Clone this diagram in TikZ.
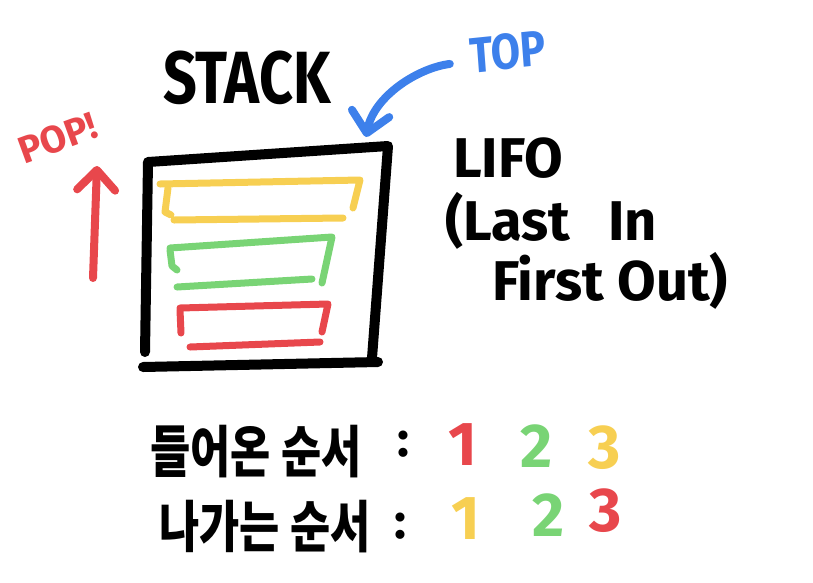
\documentclass[tikz,border=0pt]{standalone}
\usepackage{fontspec}
\setmainfont{Fira Sans}
\newfontfamily\kor{Noto Sans CJK KR}
\usetikzlibrary{arrows.meta}
\definecolor{penred}{HTML}{E8474C}
\definecolor{pengreen}{HTML}{79D475}
\definecolor{penyellow}{HTML}{F7CF52}
\definecolor{penblue}{HTML}{3D80EB}

\begin{document}
\begin{tikzpicture}[x=1pt, y=-1pt, line cap=round, line join=round,
  frame/.style={line width=10pt, black},
  bar/.style={line width=7pt},
  hand/.style={-{Straight Barb[round, length=20pt, width=38pt]}, line width=8pt},
  word/.style={font=\bfseries\fontsize{56}{60}\selectfont, inner sep=0pt},
  hangul/.style={font=\kor\bfseries\fontsize{56}{60}\selectfont, inner sep=0pt, xscale=0.78},
  digit/.style={font=\bfseries\fontsize{62}{66}\selectfont, inner sep=0pt}]
\useasboundingbox (0,0) rectangle (813,582);
% stack box
\draw [frame] (145,352) -- (148,162) -- (388,146) -- (372,358);
\draw [frame] (143,367) -- (378,362);
% bars: yellow, green, red
\draw [bar, penyellow] (160,184) -- (360,180) -- (353,208);
\draw [bar, penyellow] (168,188) -- (165,212) -- (171,215);
\draw [bar, penyellow] (174,220) -- (343,218);
\draw [bar, pengreen] (170,248) -- (332,237) -- (322,283);
\draw [bar, pengreen] (170,250) -- (172,266) -- (177,270);
\draw [bar, pengreen] (177,287) -- (312,279);
\draw [bar, penred] (180,308) -- (328,304) -- (322,332);
\draw [bar, penred] (180,310) -- (181,333);
\draw [bar, penred] (190,347) -- (320,342);
% labels
\node [word, font=\bfseries\fontsize{74}{78}\selectfont, xscale=0.8] (stack) at (247,78) {STACK};
\node [word, penred, font=\bfseries\fontsize{38}{40}\selectfont, rotate=20] (pop) at (58,138) {POP!};
\node [word, penblue, font=\bfseries\fontsize{50}{54}\selectfont, xscale=0.85, rotate=5] (top) at (508,52) {TOP};
\node [word, anchor=base west] (lifo) at (453,177) {LIFO};
\node [word, anchor=base west] (last) at (445,240) {(Last\hspace{38pt}In};
\node [word, anchor=base west] (first) at (492,300) {First Out)};
% arrows
\coordinate (corner) at (366,137);
\coordinate (popfoot) at (93,278);
\coordinate (poptip) at (97,166);
\draw [hand, penblue] ([shift={(-20,8)}]top.west) .. controls (418,68) and (374,96) .. (corner);
\draw [hand, penred] (popfoot) -- (poptip);
% order in / order out
\node [hangul] (inword) at (256,452) {들어온 순서};
\node [word, font=\bfseries\fontsize{50}{54}\selectfont] (incolon) at (403,444) {:};
\node [digit, penred] (in1) at (463,445) {1};
\node [digit, pengreen] (in2) at (537,446) {2};
\node [digit, penyellow] (in3) at (605,448) {3};
\node [hangul] (outword) at (265,527) {나가는 순서};
\node [word, font=\bfseries\fontsize{50}{54}\selectfont] (outcolon) at (400,526) {:};
\node [digit, penyellow] (out1) at (466,519) {1};
\node [digit, pengreen] (out2) at (549,515) {2};
\node [digit, penred] (out3) at (606,511) {3};
\end{tikzpicture}
\end{document}
